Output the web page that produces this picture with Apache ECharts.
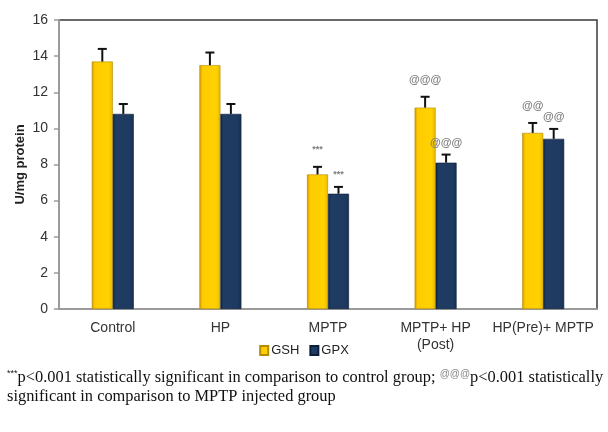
<!DOCTYPE html>
<html>
<head>
<meta charset="utf-8">
<script src="https://cdn.jsdelivr.net/npm/echarts@6/dist/echarts.min.js"></script>
<style>
  html, body { margin: 0; padding: 0; background: #fff; }
  #chart { width: 608px; height: 432px; }
</style>
</head>
<body>
<div id="chart"></div>
<script>
// Groups and measured enzyme levels (U/mg protein)
var categories = ['Control', 'HP', 'MPTP', 'MPTP+ HP\n(Post)', 'HP(Pre)+ MPTP'];
var gshValues = [13.7, 13.5, 7.45, 11.15, 9.75];
var gshErrors = [0.7, 0.7, 0.42, 0.6, 0.55];
var gpxValues = [10.8, 10.8, 6.38, 8.1, 9.42];
var gpxErrors = [0.55, 0.55, 0.38, 0.45, 0.55];
var gshMarks = ['', '', '***', '@@@', '@@'];
var gpxMarks = ['', '', '***', '@@@', '@@'];
var yTicks = { min: 0, max: 16, interval: 2 };

var BAR_RATIO = 0.195;
var SANS = '"Liberation Sans", Arial, sans-serif';

var goldFill = new echarts.graphic.LinearGradient(0, 0, 1, 0, [
  { offset: 0, color: '#C99500' },
  { offset: 0.14, color: '#FFCB00' },
  { offset: 0.8, color: '#FFD200' },
  { offset: 1, color: '#E8B800' }
]);
var blueFill = new echarts.graphic.LinearGradient(0, 0, 1, 0, [
  { offset: 0, color: '#0E2340' },
  { offset: 0.14, color: '#1F3C64' },
  { offset: 0.8, color: '#1E3A61' },
  { offset: 1, color: '#16304F' }
]);

// Error whisker (upward only) plus significance mark for one bar series
function errorSeries(values, errors, marks, side, markGap) {
  return {
    type: 'custom',
    z: 5,
    silent: true,
    data: values.map(function (v, i) { return [i, v, v + errors[i]]; }),
    renderItem: function (params, api) {
      var band = api.size([1, 0])[0];
      var dx = side * band * BAR_RATIO / 2;
      var base = api.coord([api.value(0), api.value(1)]);
      var top = api.coord([api.value(0), api.value(2)]);
      var x = base[0] + dx;
      var mark = marks[params.dataIndex];
      var children = [
        { type: 'line', shape: { x1: x, y1: base[1], x2: x, y2: top[1] },
          style: { stroke: '#111', lineWidth: 2 } },
        { type: 'line', shape: { x1: x - 4.5, y1: top[1], x2: x + 4.5, y2: top[1] },
          style: { stroke: '#111', lineWidth: 2 } }
      ];
      if (mark) {
        var isStar = mark.indexOf('*') >= 0;
        children.push({
          type: 'text',
          style: {
            text: mark, x: x, y: top[1] - markGap,
            align: 'center', verticalAlign: 'middle',
            fill: '#7d7d7d',
            font: (isStar ? 'bold 9px ' : 'bold 11px ') + SANS
          }
        });
      }
      return { type: 'group', children: children };
    }
  };
}

var chart = echarts.init(document.getElementById('chart'));
chart.setOption({
  animation: false,
  backgroundColor: '#fff',
  grid: { left: 59, right: 11, top: 20, bottom: 123, show: true, borderColor: '#3a3a3a', borderWidth: 1.5 },
  legend: {
    data: ['GSH', 'GPX'],
    left: 'center', top: 339,
    itemWidth: 8, itemHeight: 9, itemGap: 10,
    icon: 'rect',
    textStyle: { fontFamily: SANS, fontSize: 13, color: '#222', padding: [0, 0, 0, -2] }
  },
  xAxis: {
    type: 'category',
    data: categories,
    axisLine: { lineStyle: { color: '#9a9a9a', width: 2 } },
    axisTick: { show: false },
    axisLabel: { color: '#333', fontFamily: SANS, fontSize: 14, margin: 11, lineHeight: 17, interval: 0 }
  },
  yAxis: {
    type: 'value',
    min: yTicks.min, max: yTicks.max, interval: yTicks.interval,
    name: 'U/mg protein',
    nameLocation: 'middle',
    nameGap: 32,
    nameMoveOverlap: false,
    nameTextStyle: { fontFamily: SANS, fontWeight: 'bold', fontSize: 13, color: '#222' },
    axisLine: { show: true, lineStyle: { color: '#9a9a9a', width: 2 } },
    axisTick: { show: true, length: 5, lineStyle: { color: '#9a9a9a', width: 1.5 } },
    splitLine: { show: false },
    axisLabel: { color: '#333', fontFamily: SANS, fontSize: 14, margin: 11 }
  },
  series: [
    {
      name: 'GSH', type: 'bar', data: gshValues,
      barWidth: (BAR_RATIO * 100) + '%', barGap: '0%',
      itemStyle: { color: goldFill, borderColor: '#B58C00', borderWidth: 0.6 }
    },
    {
      name: 'GPX', type: 'bar', data: gpxValues,
      barWidth: (BAR_RATIO * 100) + '%', barGap: '0%',
      itemStyle: { color: blueFill, borderColor: '#0D1F38', borderWidth: 0.6 }
    },
    errorSeries(gshValues, gshErrors, gshMarks, -1, 17),
    errorSeries(gpxValues, gpxErrors, gpxMarks, 1, 12)
  ],
  graphic: [
    {
      type: 'text', left: 7, top: 368,
      style: {
        text: '{sup|***}p<0.001 statistically significant in comparison to control group; {supg|@@@}p<0.001 statistically\nsignificant in comparison to MPTP injected group',
        font: '16.4px "Liberation Serif", "Times New Roman", serif',
        fill: '#111',
        lineHeight: 19,
        rich: {
          sup: { fontSize: 9, fill: '#111', padding: [0, 0, 7, 0] },
          supg: { fontSize: 10, fill: '#888', padding: [0, 0, 7, 0] }
        }
      }
    }
  ]
});
</script>
</body>
</html>
